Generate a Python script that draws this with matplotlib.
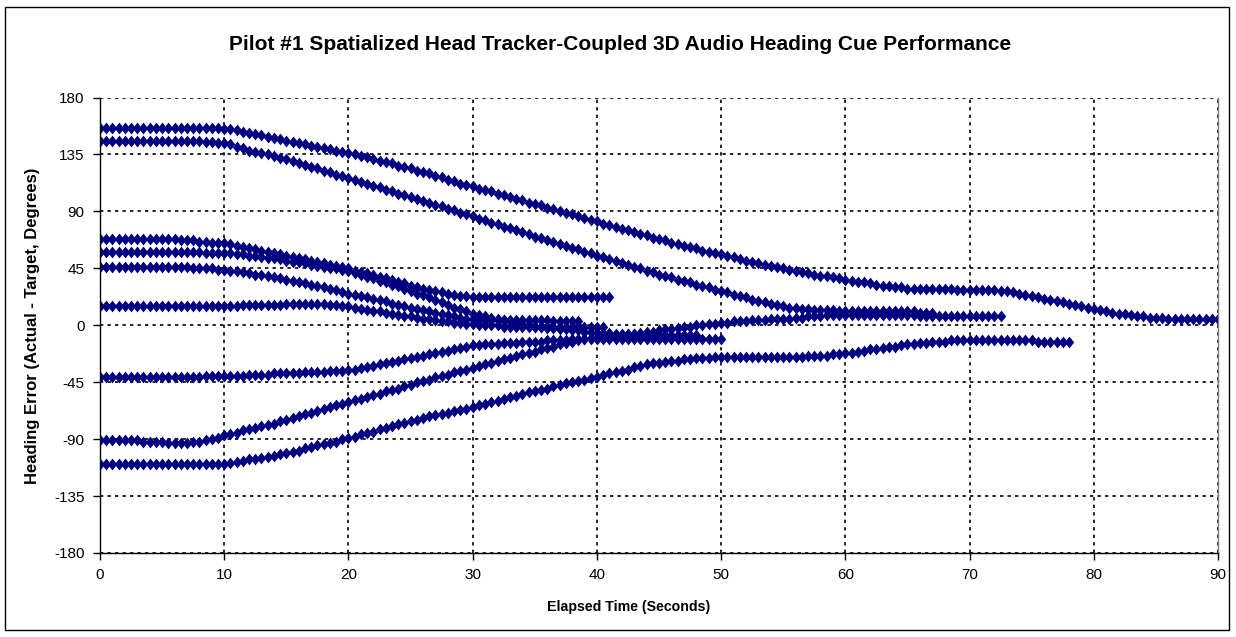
"""Recreate: Pilot #1 head-tracker-coupled 3D audio heading cue performance."""

import matplotlib
matplotlib.use("Agg")
import matplotlib.pyplot as plt
import numpy as np
from matplotlib.patches import Rectangle

# Sample interval of the recorded runs (seconds)
SAMPLE_DT = 0.5

# Heading error (deg) per run, one value every SAMPLE_DT seconds from t = 0
run_156 = [
    156, 156, 156, 156, 156, 156, 156, 156, 156, 156, 156, 156, 156, 156, 156, 156, 156, 156, 156, 156,
    155, 155, 154, 153, 152, 151, 150, 149, 148, 147,
    146, 145, 144, 143, 142, 141, 140, 139, 138, 137,
    136, 135, 134, 133, 131, 130, 129, 128, 126, 125,
    124, 122, 121, 120, 118, 117, 115, 114, 112, 111,
    110, 108, 107, 106, 104, 103, 101, 100, 99, 97,
    96, 95, 93, 92, 90, 89, 88, 86, 85, 83,
    82, 80, 79, 78, 76, 75, 74, 72, 71, 69,
    68, 67, 65, 64, 63, 62, 61, 59, 58, 57,
    56, 55, 54, 52, 51, 50, 49, 48, 47, 46,
    45, 44, 43, 42, 41, 40, 39, 39, 38, 37,
    36, 35, 34, 34, 33, 32, 31, 31, 30, 30,
    29, 29, 29, 29, 29, 29, 29, 29, 28, 28,
    28, 28, 28, 28, 28, 27, 27, 26, 25, 24,
    23, 22, 21, 20, 19, 18, 17, 16, 15, 14,
    13, 12, 11, 10, 9, 9, 8, 7, 7, 6,
    6, 6, 5, 5, 5, 5, 5, 5, 5, 5,
    5,
]
run_146 = [
    146, 146, 146, 146, 146, 146, 146, 146, 146, 146, 146, 146, 146, 146, 146, 146, 146, 145, 145, 144,
    144, 143, 141, 140, 138, 137, 136, 135, 134, 132,
    131, 130, 128, 127, 125, 124, 122, 121, 119, 118,
    116, 115, 113, 112, 110, 109, 107, 106, 104, 103,
    101, 100, 98, 97, 95, 94, 92, 91, 89, 88,
    86, 84, 83, 81, 80, 78, 77, 75, 74, 72,
    70, 69, 67, 66, 64, 63, 61, 60, 58, 57,
    55, 54, 52, 51, 49, 48, 46, 45, 43, 42,
    40, 39, 38, 36, 35, 34, 32, 31, 30, 28,
    27, 26, 24, 23, 22, 20, 19, 18, 17, 16,
    15, 14, 14, 13, 13, 12, 12, 12, 12, 11,
    11, 11, 11, 11, 11, 11, 11, 11, 11, 11,
    11, 11, 10, 10, 10,
]
run_68 = [
    68, 68, 68, 68, 68, 68, 68, 68, 68, 68,
    68, 68, 68, 67, 67, 67, 66, 66, 65, 65,
    65, 64, 63, 62, 61, 60, 59, 58, 57, 56,
    55, 54, 53, 52, 51, 50, 49, 48, 47, 46,
    45, 43, 42, 41, 40, 38, 37, 36, 34, 33,
    31, 30, 29, 28, 27, 26, 25, 24, 23, 23,
    22, 22, 22, 22, 22, 22, 22, 22, 22, 22,
    22, 22, 22, 22, 22, 22, 22, 22, 22, 22,
    22, 22, 22,
]
run_58 = [
    58, 58, 58, 58, 58, 58, 58, 58, 58, 58, 58, 58, 58, 58, 58, 58, 58, 57, 57, 57,
    57, 57, 56, 56, 55, 55, 54, 53, 53, 52,
    51, 50, 50, 49, 48, 47, 46, 45, 45, 44,
    43, 41, 40, 38, 37, 35, 34, 32, 31, 29,
    27, 25, 24, 22, 20, 18, 16, 14, 13, 11,
    9, 8, 7, 6, 5, 4, 3, 2, 1, 0,
    -1, -1, -2, -2, -3, -3, -4, -4, -5, -5,
    -6, -6, -6, -7, -7, -7, -7, -8, -8, -8,
    -8, -8, -8, -8, -8, -8, -8,
]
run_46 = [
    46, 46, 46, 46, 46, 46, 46, 46, 46, 46,
    46, 46, 46, 46, 46, 45, 45, 45, 45, 44,
    44, 43, 43, 42, 41, 40, 40, 39, 38, 37,
    36, 35, 34, 33, 32, 31, 30, 29, 28, 26,
    25, 24, 23, 22, 21, 20, 19, 17, 16, 15,
    14, 13, 12, 11, 10, 9, 8, 7, 6, 5,
    5, 4, 4, 4, 4, 4, 4, 4, 4, 4,
    4, 4, 4, 3, 3, 3, 3, 3,
]
run_15 = [
    15, 15, 15, 15, 15, 15, 15, 15, 15, 15, 15, 15, 15, 15, 15, 15, 15, 15, 15, 15,
    15, 15, 15, 16, 16, 16, 16, 16, 16, 16,
    17, 17, 17, 17, 17, 17, 17, 16, 16, 15,
    15, 14, 13, 12, 11, 11, 10, 9, 8, 7,
    7, 6, 5, 5, 4, 3, 3, 2, 2, 1,
    1, 0, 0, 0, 0, -1, -1, -1, -1, -1,
    -1, -1, -1, -1, -1, -1, -1, -1, -1, -1,
    -1, -1,
]
run_m41 = [
    -41, -41, -41, -41, -41, -41, -41, -41, -41, -41, -41, -41, -41, -41, -41, -41, -41, -40, -40, -40,
    -40, -40, -40, -40, -39, -39, -39, -39, -38, -38,
    -38, -38, -38, -37, -37, -37, -37, -36, -36, -36,
    -35, -35, -34, -33, -32, -31, -30, -29, -28, -27,
    -26, -25, -24, -23, -22, -21, -20, -19, -18, -17,
    -16, -16, -15, -15, -15, -14, -14, -14, -13, -13,
    -13, -13, -12, -12, -12, -12, -11, -11, -11, -11,
    -11, -11, -11, -11, -11, -11, -11, -11, -11, -11,
    -11, -11, -11, -11, -11, -11, -11, -11, -11, -11,
    -11,
]
run_m91 = [
    -91, -91, -91, -91, -91, -91, -91, -92, -92, -92,
    -92, -93, -93, -93, -93, -92, -92, -91, -90, -89,
    -87, -86, -85, -83, -82, -81, -80, -79, -78, -76,
    -75, -73, -72, -70, -69, -68, -66, -65, -63, -62,
    -61, -59, -58, -57, -55, -54, -52, -51, -50, -48,
    -47, -45, -44, -43, -41, -40, -39, -37, -36, -35,
    -34, -32, -31, -30, -28, -27, -26, -24, -23, -22,
    -21, -19, -18, -17, -15, -14, -13, -12, -11, -10,
    -10, -9, -9, -8, -8, -7, -7, -6, -5, -5,
    -4, -3, -3, -2, -1, -1, 0, 0, 1, 1,
    2, 2, 3, 3, 3, 4, 4, 4, 5, 5,
    5, 5, 6, 6, 7, 7, 7, 8, 8, 8,
    8, 8, 8, 8, 8, 8, 8, 8, 8, 8,
    8, 8, 7, 7, 7, 7, 7, 7, 7, 7,
    7, 7, 7, 7, 7, 7,
]
run_m110 = [
    -110, -110, -110, -110, -110, -110, -110, -110, -110, -110,
    -110, -110, -110, -110, -110, -110, -110, -110, -110, -110,
    -110, -109, -108, -107, -106, -106, -105, -104, -103, -102,
    -101, -100, -99, -97, -96, -95, -94, -93, -92, -90,
    -89, -88, -86, -85, -84, -82, -81, -80, -78, -77,
    -76, -75, -73, -72, -71, -70, -69, -68, -67, -66,
    -65, -63, -62, -61, -60, -58, -57, -56, -54, -53,
    -52, -51, -50, -48, -47, -46, -45, -44, -43, -42,
    -41, -39, -38, -37, -36, -35, -33, -32, -31, -30,
    -30, -29, -28, -28, -27, -27, -26, -26, -26, -25,
    -25, -25, -25, -25, -25, -25, -25, -25, -25, -25,
    -25, -25, -25, -25, -24, -24, -24, -24, -23, -23,
    -22, -22, -21, -20, -19, -19, -18, -17, -17, -16,
    -15, -15, -14, -14, -13, -13, -13, -12, -12, -12,
    -12, -12, -12, -12, -12, -12, -12, -12, -12, -12,
    -12, -13, -13, -13, -13, -13, -13,
]

runs = [run_156, run_146, run_68, run_58, run_46, run_15, run_m41, run_m91, run_m110]

x_ticks = [0, 10, 20, 30, 40, 50, 60, 70, 80, 90]
y_ticks = [-180, -135, -90, -45, 0, 45, 90, 135, 180]

title = "Pilot #1 Spatialized Head Tracker-Coupled 3D Audio Heading Cue Performance"
x_label = "Elapsed Time (Seconds)"
y_label = "Heading Error (Actual - Target, Degrees)"

plt.rcParams["font.family"] = ["Liberation Sans", "DejaVu Sans"]
plt.rcParams["axes.unicode_minus"] = False

W, H = 1236, 637
fig = plt.figure(figsize=(W / 100, H / 100), dpi=100)
ax = fig.add_axes([100 / W, 1 - 553 / H, 1118 / W, 455.5 / H])

# Excel-style diamond, a little taller than wide
diamond = [(0, 1), (0.8, 0), (0, -1), (-0.8, 0), (0, 1)]
marker_color = "#000080"
for vals in runs:
    t = np.arange(len(vals)) * SAMPLE_DT
    ax.plot(t, vals, linestyle="none", marker=diamond, markersize=8.5,
            color=marker_color, markeredgewidth=0)

ax.set_xlim(0, 90)
ax.set_ylim(-180, 180)
ax.set_xticks(x_ticks)
ax.set_yticks(y_ticks)
ax.tick_params(axis="both", direction="out", length=5, width=1, labelsize=11, pad=6)
ax.grid(True, color="black", linestyle=(0, (2, 2.5)), linewidth=1.2)
ax.set_axisbelow(True)

ax.spines["top"].set_visible(False)
ax.spines["right"].set_color("#808080")
ax.spines["right"].set_linewidth(1)
ax.spines["left"].set_linewidth(1)
ax.spines["bottom"].set_linewidth(1)

fig.text(620 / W, 1 - 45 / H, title, ha="center", va="center",
         fontsize=15, fontweight="bold")
fig.text(629 / W, 1 - 607 / H, x_label, ha="center", va="center",
         fontsize=10.2, fontweight="bold")
fig.text(33 / W, 1 - 326 / H, y_label, ha="center", va="center",
         fontsize=12, fontweight="bold", rotation=90)

# Outer chart border
fig.patches.append(Rectangle((5 / W, 1 - 630 / H), 1224 / W, 623 / H,
                             transform=fig.transFigure, fill=False,
                             edgecolor="black", linewidth=1))

fig.savefig("out.png", dpi=100)
